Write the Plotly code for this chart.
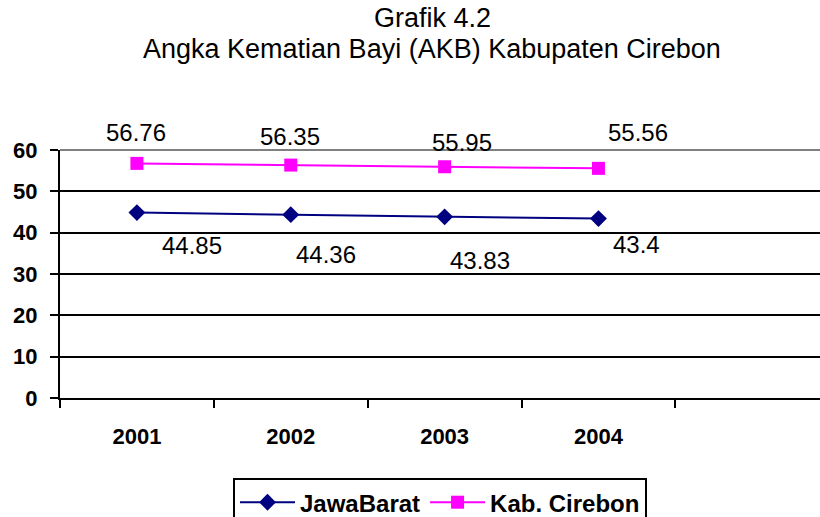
import plotly.graph_objects as go

years = ["2001", "2002", "2003", "2004"]
jawa_barat = [44.85, 44.36, 43.83, 43.4]
kab_cirebon = [56.76, 56.35, 55.95, 55.56]
y_ticks = [0, 10, 20, 30, 40, 50, 60]

# label offsets (pixels) to mimic the original label placement
jb_shift = [(55, -33), (35, -40), (35, -44), (38, -26)]
kc_shift = [(-1, 31), (-1, 29), (17, 24), (40, 36)]

FONT = "Arial, Liberation Sans, sans-serif"

fig = go.Figure()
fig.add_trace(go.Scatter(
    x=years, y=jawa_barat, name="JawaBarat", mode="lines+markers",
    line=dict(color="#000080", width=2),
    marker=dict(symbol="diamond", size=13, color="#000080"),
))
fig.add_trace(go.Scatter(
    x=years, y=kab_cirebon, name="Kab. Cirebon", mode="lines+markers",
    line=dict(color="#FF00FF", width=2),
    marker=dict(symbol="square", size=13, color="#FF00FF"),
))

annotations = []
for i, (v, (dx, dy)) in enumerate(zip(jawa_barat, jb_shift)):
    annotations.append(dict(x=i, y=v, xref="x", yref="y", text=str(v), showarrow=False,
                            xshift=dx, yshift=dy,
                            font=dict(family=FONT, size=24, color="black")))
for i, (v, (dx, dy)) in enumerate(zip(kab_cirebon, kc_shift)):
    annotations.append(dict(x=i, y=v, xref="x", yref="y", text=str(v), showarrow=False,
                            xshift=dx, yshift=dy,
                            font=dict(family=FONT, size=24, color="black")))

annotations.append(dict(xref="paper", yref="paper", x=0.49, y=1.0, yanchor="middle",
                        yshift=132, text="Grafik 4.2", showarrow=False,
                        font=dict(family=FONT, size=27, color="black")))
annotations.append(dict(xref="paper", yref="paper", x=0.49, y=1.0, yanchor="middle",
                        yshift=101, text="Angka Kematian Bayi (AKB) Kabupaten Cirebon",
                        showarrow=False,
                        font=dict(family=FONT, size=27, color="black")))

fig.update_layout(
    width=820, height=517,
    margin=dict(l=60, r=0, t=150, b=119, autoexpand=False),
    paper_bgcolor="white", plot_bgcolor="white",
    showlegend=True,
    legend=dict(orientation="h", x=0.5, xanchor="center", y=-0.323, yanchor="top",
                bordercolor="black", borderwidth=2,
                font=dict(family=FONT, size=24, color="black", weight="bold"),
                itemwidth=55),
    annotations=annotations,
    shapes=[dict(type="line", xref="paper", yref="paper", x0=0, x1=1, y0=1, y1=1,
                 line=dict(color="#808080", width=2), layer="above")],
    font=dict(family=FONT, color="black"),
)
fig.update_xaxes(
    type="category", categoryorder="array", categoryarray=years,
    range=[-0.5, 4.44], tickson="boundaries",
    showline=True, linecolor="black", linewidth=2,
    ticks="outside", ticklen=8, tickwidth=2, tickcolor="black",
    showgrid=False, zeroline=False, ticklabelstandoff=18,
    tickfont=dict(family=FONT, size=22, color="black", weight="bold"),
)
fig.update_yaxes(
    range=[0, 60], tickvals=y_ticks,
    showline=True, linecolor="black", linewidth=2,
    ticks="outside", ticklen=8, tickwidth=2, tickcolor="black",
    showgrid=True, gridcolor="black", gridwidth=2, zeroline=False,
    ticklabelstandoff=8,
    tickfont=dict(family=FONT, size=22, color="black", weight="bold"),
)

fig.write_html("out.html", config={"displayModeBar": False},
               post_script="document.body.style.margin='0';")
